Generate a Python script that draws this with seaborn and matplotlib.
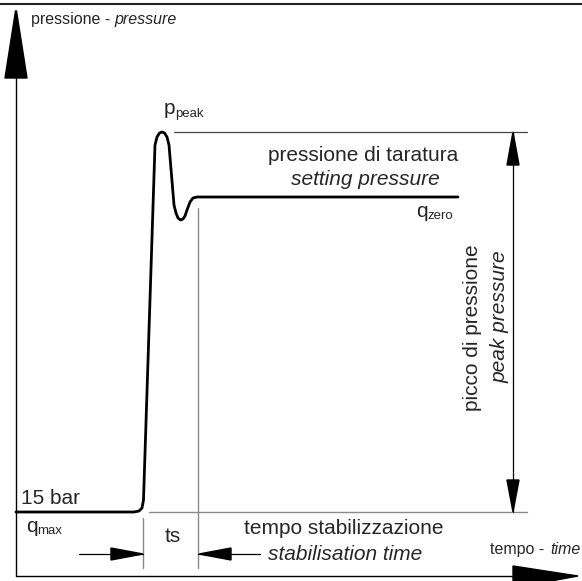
import matplotlib
matplotlib.use('Agg')
import matplotlib.pyplot as plt
import seaborn as sns
from matplotlib.patches import Polygon

# pressure trace (drawing units: x = time, y = pressure, measured on the sheet)
time_pts = [16, 134, 139, 142, 143.5, 155, 157, 159.5, 162, 164.5, 167, 169,
            174, 176, 178, 180.5, 183, 185, 187, 190, 193, 197, 458]
press_pts = [512, 512, 511, 508, 500, 145, 137, 133, 132, 133, 137, 145,
             205, 213, 218, 220, 219, 216, 210, 202, 198, 197, 197]

# reference levels
p_peak = 132
p_set = 197
p_15bar = 512
t_rise = 143
t_stab = 198

sns.set_style('white')
plt.rcParams['font.family'] = ['Liberation Sans', 'DejaVu Sans']

fig = plt.figure(figsize=(5.82, 5.81), dpi=100)
ax = fig.add_axes([0, 0, 1, 1])
ax.set_xlim(0, 582)
ax.set_ylim(581, 0)
ax.axis('off')

# frame / axes
ax.plot([0, 582], [4, 4], color='#222222', lw=1.5)
ax.plot([16, 16], [78, 576], color='black', lw=1.0)
ax.plot([16, 515], [576, 576], color='black', lw=1.0)
ax.add_patch(Polygon([(5, 78), (27, 78), (16.5, 11), (15.5, 11)], closed=True, color='black'))
ax.add_patch(Polygon([(513, 566), (513, 588), (578, 576)], closed=True, color='black'))

# helper lines
grey = '#8a8a8a'
ax.plot([174, 527], [p_peak, p_peak], color='#444444', lw=0.9)
ax.plot([149, 527], [p_15bar, p_15bar], color=grey, lw=1.0)
ax.plot([t_rise, t_rise], [518, 568], color=grey, lw=1.0)
ax.plot([t_stab, t_stab], [208, 568], color=grey, lw=1.0)

# curve
sns.lineplot(x=time_pts, y=press_pts, sort=False, estimator=None,
             color='black', lw=2.0, ax=ax)

# ts dimension
ax.plot([79, t_rise], [554, 554], color='black', lw=0.9)
ax.plot([t_stab, 260], [554, 554], color='black', lw=0.9)
ax.add_patch(Polygon([(111, 548), (111, 560), (t_rise, 554)], closed=True, color='black'))
ax.add_patch(Polygon([(231, 548), (231, 560), (t_stab + 1, 554)], closed=True, color='black'))

# peak pressure dimension
ax.plot([513, 513], [p_peak, p_15bar], color='black', lw=0.9)
ax.add_patch(Polygon([(507, 165), (519, 165), (513, p_peak)], closed=True, color='black'))
ax.add_patch(Polygon([(507, 480), (519, 480), (513, p_15bar)], closed=True, color='black'))

big = 15
small = 11.5
sub = 9.5

ax.text(31, 24, 'pressione -', fontsize=small, va='baseline')
ax.text(114, 24, 'pressure', fontsize=small, style='italic', va='baseline')

ax.text(164, 114, 'p', fontsize=big, va='baseline')
ax.text(175, 117, 'peak', fontsize=sub, va='baseline')

ax.text(363, 161, 'pressione di taratura', fontsize=big, ha='center', va='baseline')
ax.text(365, 185, 'setting pressure', fontsize=big, style='italic', ha='center', va='baseline')

ax.text(416, 217, 'q', fontsize=big, va='baseline')
ax.text(428, 219, 'zero', fontsize=sub, va='baseline')

ax.text(472, 328, 'picco di pressione', fontsize=big, rotation=90, ha='center', va='center')
ax.text(500, 317, 'peak pressure', fontsize=big, style='italic', rotation=90, ha='center', va='center')

ax.text(21, 504, '15 bar', fontsize=big, va='baseline')
ax.text(26, 532, 'q', fontsize=big, va='baseline')
ax.text(37, 534, 'max', fontsize=sub, va='baseline')

ax.text(173, 542, 'ts', fontsize=big, ha='center', va='baseline')

ax.text(344, 534, 'tempo stabilizzazione', fontsize=big, ha='center', va='baseline')
ax.text(345, 560, 'stabilisation time', fontsize=big, style='italic', ha='center', va='baseline')

ax.text(490, 554, 'tempo -', fontsize=small, va='baseline')
ax.text(550, 554, 'time', fontsize=small, style='italic', va='baseline')

fig.savefig('out.png', dpi=100)
